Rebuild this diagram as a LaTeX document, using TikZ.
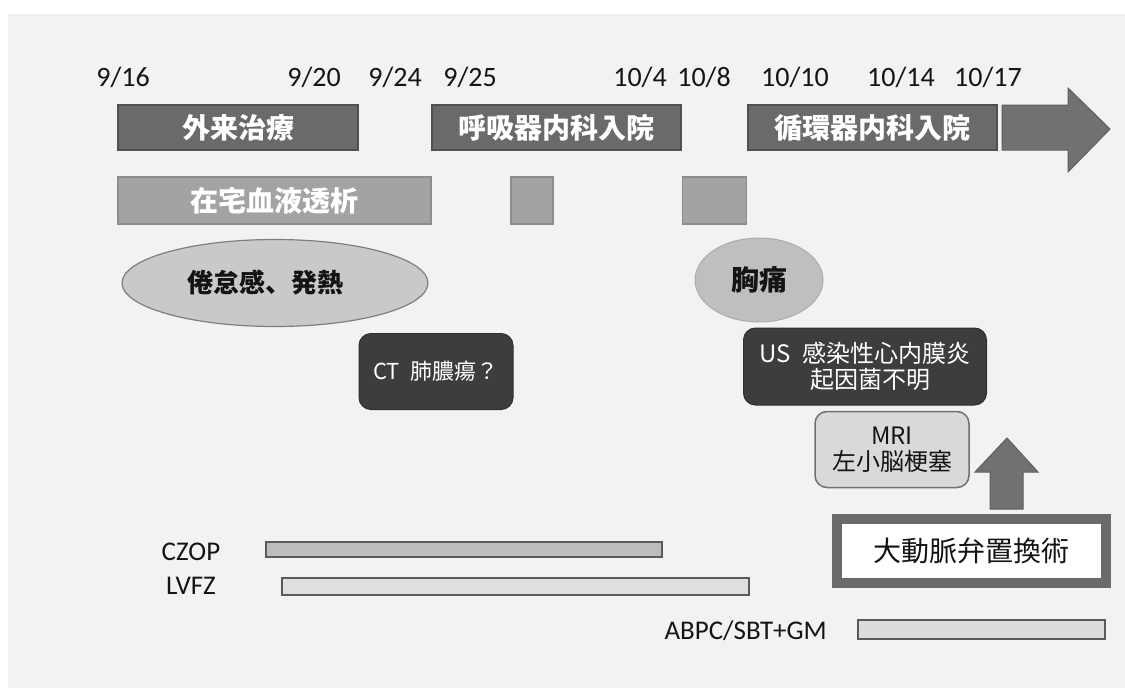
\documentclass[tikz,border=0pt]{standalone}
\usepackage{fontspec}
\setmainfont{Carlito}
\newfontfamily\jp{Noto Sans CJK JP}
\usetikzlibrary{shapes.geometric}
\definecolor{panel}{HTML}{F2F2F2}
\definecolor{headfill}{HTML}{6A6A6A}
\definecolor{headline}{HTML}{505050}
\definecolor{dialfill}{HTML}{A3A3A3}
\definecolor{dialline}{HTML}{8C8C8C}
\definecolor{ellfill}{HTML}{C9C9C9}
\definecolor{ellline}{HTML}{7F7F7F}
\definecolor{chestfill}{HTML}{BFBFBF}
\definecolor{chestline}{HTML}{ADADAD}
\definecolor{darkfill}{HTML}{3D3D3D}
\definecolor{darkline}{HTML}{2F2F2F}
\definecolor{mrifill}{HTML}{D9D9D9}
\definecolor{mriline}{HTML}{707070}
\definecolor{arrowfill}{HTML}{717171}
\definecolor{arrowline}{HTML}{5E5E5E}
\definecolor{avrline}{HTML}{6A6A6A}
\definecolor{czopfill}{HTML}{BEBEBE}
\definecolor{lvfzfill}{HTML}{DFDFDF}
\definecolor{abpcfill}{HTML}{DCDCDC}
\definecolor{barline}{HTML}{5A5A5A}
\definecolor{txt}{HTML}{141414}
\begin{document}
\begin{tikzpicture}[x=1pt,y=-1pt,
  datelbl/.style={anchor=base, inner sep=0, text=txt, font=\fontsize{28}{30}\selectfont},
  druglbl/.style={inner sep=0, text=txt, font=\fontsize{27}{30}\selectfont},
  head/.style={draw=headline, fill=headfill, line width=1.5pt, minimum height=45, inner sep=0, text=white, font=\jp\bfseries\fontsize{28}{30}\selectfont},
  dial/.style={draw=dialline, fill=dialfill, line width=1.5pt, minimum height=47, inner sep=0, text=white, font=\jp\bfseries\fontsize{28}{30}\selectfont},
  ellbox/.style={ellipse, inner sep=0, text=txt, font=\jp\bfseries\fontsize{26}{30}\selectfont},
  darkbox/.style={draw=darkline, fill=darkfill, rounded corners=12pt, line width=1pt, inner sep=0, text=white, align=center, font=\jp\fontsize{24}{26}\selectfont},
  mribox/.style={draw=mriline, fill=mrifill, rounded corners=12pt, line width=1.5pt, inner sep=0, text=txt, align=center, font=\jp\fontsize{24}{26}\selectfont},
  arrowshape/.style={fill=arrowfill, draw=arrowline, line width=1pt},
  avrbox/.style={draw=avrline, fill=white, line width=10pt, inner sep=0, text=txt, font=\jp\fontsize{28}{30}\selectfont},
  barbox/.style={draw=barline, line width=2pt, inner sep=0}
]
\useasboundingbox (0,0) rectangle (1125,688);
\fill[panel] (8,14) rectangle (1125,688);

% dates
\node[datelbl] (d916) at (123,86) {9/16};
\node[datelbl] (d920) at (314,86) {9/20};
\node[datelbl] (d924) at (395,86) {9/24};
\node[datelbl] (d925) at (470,86) {9/25};
\node[datelbl] (d104) at (640,86) {10/4};
\node[datelbl] (d108) at (704,86) {10/8};
\node[datelbl] (d1010) at (795,86) {10/10};
\node[datelbl] (d1014) at (901,86) {10/14};
\node[datelbl] (d1017) at (988,86) {10/17};

% phases
\node[head, minimum width=240] (gairai) at (238,127.5) {外来治療};
\node[head, minimum width=249] (kokyu) at (556.5,127.5) {呼吸器内科入院};
\node[head, minimum width=249] (junkan) at (872.5,127.5) {循環器内科入院};
\draw[arrowshape] (1002,105) -- (1068,105) -- (1068,88) -- (1110,129) -- (1068,172) -- (1068,150) -- (1002,150) -- cycle;

% dialysis
\node[dial, minimum width=313] (hd) at (274.5,200.5) {在宅血液透析};
\node[dial, minimum width=42] (hd2) at (532,200.5) {};
\node[dial, minimum width=64] (hd3) at (714.5,200.5) {};

% symptoms
\node[ellbox, draw=ellline, fill=ellfill, line width=1.2pt, minimum width=306, minimum height=87] (fatigue) at (275,283) {\hspace*{-20pt}倦怠感、発熱};
\node[ellbox, draw=chestline, fill=chestfill, line width=1pt, minimum width=128, minimum height=84, font=\jp\bfseries\fontsize{28}{30}\selectfont] (chest) at (759,280) {胸痛};

% findings
\node[darkbox, minimum width=154, minimum height=76, font=\jp\fontsize{22}{26}\selectfont] (ct) at (436,371.5) {CT\enspace 肺膿瘍？};
\node[darkbox, minimum width=243, minimum height=77] (us) at (865,366.5) {US\enspace 感染性心内膜炎\\\hspace*{10pt}起因菌不明};
\node[mribox, minimum width=154, minimum height=76] (mri) at (892,449.5) {MRI\\左小脳梗塞};

% surgery
\node[avrbox, minimum width=269, minimum height=64] (avr) at (971.5,551) {大動脈弁置換術};
\draw[arrowshape] (990,509) -- (990,472) -- (975,472) -- (1007,438) -- (1038,472) -- (1023,472) -- (1023,509) -- cycle;

% antibiotics
\node[druglbl] (czop) at (191,552) {CZOP};
\node[druglbl] (lvfz) at (191,586) {LVFZ};
\node[druglbl, anchor=east] (abpc) at (827,631) {ABPC/SBT+GM};
\node[barbox, fill=czopfill, minimum width=396, minimum height=15] (czopbar) at (463.5,549.5) {};
\node[barbox, fill=lvfzfill, minimum width=467, minimum height=17] (lvfzbar) at (515.5,586) {};
\node[barbox, fill=abpcfill, minimum width=247, minimum height=19] (abpcbar) at (981.5,629) {};
\end{tikzpicture}
\end{document}
